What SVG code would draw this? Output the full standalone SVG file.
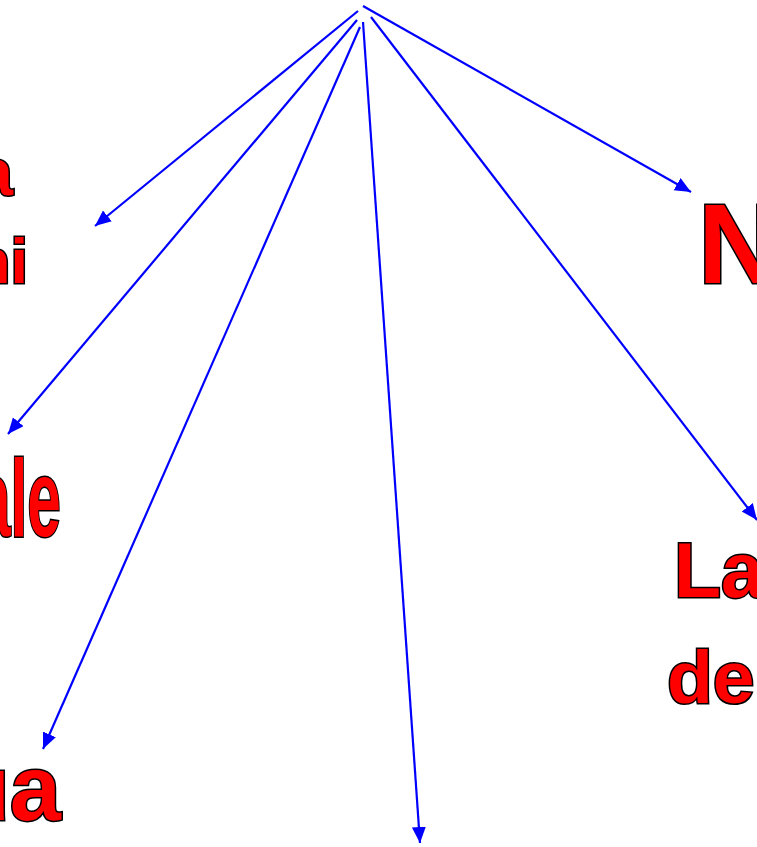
<svg xmlns="http://www.w3.org/2000/svg" width="757" height="847" viewBox="0 0 757 847">
<style>
.lbl{font-family:"Liberation Sans",Arial,sans-serif;font-weight:bold;fill:#ff0000;stroke:#000;stroke-width:3;paint-order:stroke}
.edge{stroke:#0000ff;stroke-width:2.2;fill:none;marker-end:url(#ah)}
</style>
<defs>
<marker id="ah" markerUnits="userSpaceOnUse" markerWidth="18" markerHeight="15" refX="16" refY="7" orient="auto">
<path d="M0,0 L16,7 L0,14 Z" fill="#0000ff"/>
</marker>
</defs>
<rect width="757" height="847" fill="#fff"/>
<g id="connectors">
<line class="edge" x1="358" y1="11" x2="95" y2="226"/>
<line class="edge" x1="357" y1="20" x2="8" y2="434"/>
<line class="edge" x1="360" y1="27" x2="43" y2="749"/>
<line class="edge" x1="363" y1="22" x2="420" y2="843"/>
<line class="edge" x1="371" y1="17" x2="757" y2="520"/>
<line class="edge" x1="363" y1="6" x2="691" y2="192"/>
</g>
<g id="node-a"><text class="lbl" x="13" y="195" font-size="67" text-anchor="end">a</text></g>
<g id="node-hi"><text class="lbl" x="28" y="283" font-size="63" text-anchor="end">hi</text></g>
<g id="node-ale"><text class="lbl" transform="translate(61,536) scale(0.55,1)" font-size="110" text-anchor="end">ale</text></g>
<g id="node-ua"><text class="lbl" x="61" y="820" font-size="92" text-anchor="end">ua</text></g>
<g id="node-N"><text class="lbl" x="698" y="283" font-size="113">N</text></g>
<g id="node-La"><text class="lbl" x="674" y="597" font-size="77">La</text></g>
<g id="node-de"><text class="lbl" x="667" y="703" font-size="75">de</text></g>
</svg>
